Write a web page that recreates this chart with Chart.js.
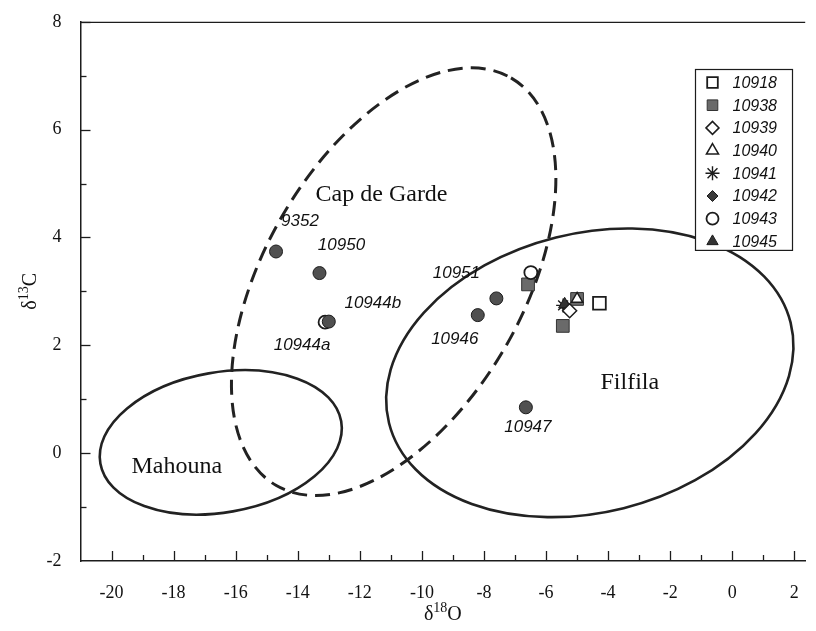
<!DOCTYPE html>
<html>
<head>
<meta charset="utf-8">
<script src="https://cdn.jsdelivr.net/npm/chart.js@4.4.1/dist/chart.umd.min.js"></script>
<style>
  html, body { margin: 0; padding: 0; background: #ffffff; }
  #wrap { width: 816px; height: 631px; }
</style>
</head>
<body>
<div id="wrap"><canvas id="c" width="816" height="631"></canvas></div>
<script>
// Axis tick labels
const xTickValues = [-20, -18, -16, -14, -12, -10, -8, -6, -4, -2, 0, 2];
const yTickValues = [-2, 0, 2, 4, 6, 8];

// Labelled samples (filled grey circles): δ18O and δ13C
const sampleNames = ['9352', '10950', '10944b', '10951', '10946', '10947'];
const sampleO = [-14.7, -13.3, -13.0, -7.6, -8.2, -6.65];
const sampleC = [3.74, 3.34, 2.44, 2.87, 2.56, 0.85];
// 10944a sits just under 10944b as an open circle
const sample10944aO = [-13.12];
const sample10944aC = [2.43];

// Legend series
const o10918 = [-4.28], c10918 = [2.78];
const o10938 = [-6.58, -5.46, -5.0], c10938 = [3.13, 2.36, 2.86];
const o10939 = [-5.24], c10939 = [2.64];
const o10940 = [-5.0], c10940 = [2.86];
const o10941 = [-5.45], c10941 = [2.74];
const o10942 = [-5.32], c10942 = [2.70];
const o10943 = [-6.49], c10943 = [3.35];
const o10945 = [-5.4], c10945 = [2.76];

// Locality fields: ellipse centre plus two conjugate semi-diameters, in axis units
const regions = [
  { name: 'Cap de Garde', cx: -10.91, cy: 3.18, u: [3.78, 3.78], v: [3.61, -1.20], dashed: true,  lx: -11.3, ly: 4.80 },
  { name: 'Filfila',      cx: -4.59,  cy: 1.49, u: [6.47, 0.93], v: [1.09, -2.51], dashed: false, lx: -3.30, ly: 1.30 },
  { name: 'Mahouna',      cx: -16.48, cy: 0.20, u: [3.88, 0.39], v: [0.39, -1.28], dashed: false, lx: -17.9, ly: -0.26 }
];

// Text placement of sample names around their points (px)
const sampleLabelShift = {
  '9352': [24, -30], '10950': [22, -28], '10944b': [44, -18], '10944a': [-23, 23],
  '10951': [-40, -25], '10946': [-23, 24], '10947': [2, 20]
};

const pts = (o, c) => o.map((x, i) => ({ x: x, y: c[i] }));
const INK = '#1c1c1c';

const datasets = [
  { label: 'samples', names: sampleNames, data: pts(sampleO, sampleC), pointStyle: 'circle', pointRadius: 6.5,
    backgroundColor: '#505050', borderColor: INK, borderWidth: 1, order: 1 },
  { label: '10944a', names: ['10944a'], data: pts(sample10944aO, sample10944aC), pointStyle: 'circle', pointRadius: 6.5,
    backgroundColor: '#ffffff', borderColor: INK, borderWidth: 1.8, order: 2 },
  { label: '10918', legend: true, data: pts(o10918, c10918), pointStyle: 'rect', pointRadius: 9,
    backgroundColor: '#ffffff', borderColor: INK, borderWidth: 1.8, order: 6, lr: 7.5 },
  { label: '10938', legend: true, data: pts(o10938, c10938), pointStyle: 'rect', pointRadius: 9,
    backgroundColor: '#6a6a6a', borderColor: '#333333', borderWidth: 1, order: 6, lr: 7.5 },
  { label: '10939', legend: true, data: pts(o10939, c10939), pointStyle: 'rectRot', pointRadius: 7,
    backgroundColor: '#ffffff', borderColor: INK, borderWidth: 1.5, order: 4, lr: 6.5 },
  { label: '10940', legend: true, data: pts(o10940, c10940), pointStyle: 'triangle', pointRadius: 6.5,
    backgroundColor: '#ffffff', borderColor: INK, borderWidth: 1.5, order: 3, lr: 7 },
  { label: '10941', legend: true, data: pts(o10941, c10941), pointStyle: 'star', pointRadius: 7,
    backgroundColor: INK, borderColor: INK, borderWidth: 1.4, order: 7, lr: 7 },
  { label: '10942', legend: true, data: pts(o10942, c10942), pointStyle: 'rectRot', pointRadius: 6,
    backgroundColor: '#3a3a3a', borderColor: INK, borderWidth: 1, order: 8, lr: 5.5 },
  { label: '10943', legend: true, data: pts(o10943, c10943), pointStyle: 'circle', pointRadius: 6.5,
    backgroundColor: '#ffffff', borderColor: INK, borderWidth: 1.8, order: 3, lr: 6 },
  { label: '10945', legend: true, data: pts(o10945, c10945), pointStyle: 'triangle', pointRadius: 7,
    backgroundColor: '#333333', borderColor: INK, borderWidth: 1, order: 5, lr: 6.5 }
];

function drawSupText(ctx, parts, x, y, size) {
  // parts: [[text, isSup], ...], centred on x
  const big = size + 'px "Liberation Serif", "Times New Roman", serif';
  const small = Math.round(size * 0.68) + 'px "Liberation Serif", "Times New Roman", serif';
  let w = 0;
  parts.forEach(p => { ctx.font = p[1] ? small : big; w += ctx.measureText(p[0]).width; });
  let cx = x - w / 2;
  ctx.textAlign = 'left';
  ctx.textBaseline = 'alphabetic';
  parts.forEach(p => {
    ctx.font = p[1] ? small : big;
    ctx.fillText(p[0], cx, p[1] ? y - size * 0.42 : y);
    cx += ctx.measureText(p[0]).width;
  });
}

const figurePlugin = {
  id: 'figure',
  beforeDatasetsDraw(chart) {
    const ctx = chart.ctx, xs = chart.scales.x, ys = chart.scales.y, a = chart.chartArea;
    ctx.save();
    ctx.strokeStyle = INK;
    ctx.lineCap = 'butt';
    // top frame line
    ctx.lineWidth = 1.2;
    ctx.beginPath(); ctx.moveTo(a.left, a.top + 0.5); ctx.lineTo(a.right, a.top + 0.5); ctx.stroke();
    // inward tick marks
    ctx.lineWidth = 1.3;
    for (let v = Math.ceil(xs.min); v <= xs.max; v++) {
      if (v === xs.min) continue;
      const px = Math.round(xs.getPixelForValue(v)) + 0.5;
      const len = xTickValues.includes(v) ? 10 : 6;
      ctx.beginPath(); ctx.moveTo(px, a.bottom); ctx.lineTo(px, a.bottom - len); ctx.stroke();
    }
    for (let v = Math.ceil(ys.min); v <= ys.max; v++) {
      if (v === ys.min) continue;
      const py = Math.round(ys.getPixelForValue(v)) + 0.5;
      const len = yTickValues.includes(v) ? 10 : 6;
      ctx.beginPath(); ctx.moveTo(a.left, py); ctx.lineTo(a.left + len, py); ctx.stroke();
    }
    // locality ellipses
    regions.forEach(r => {
      const cx = xs.getPixelForValue(r.cx), cy = ys.getPixelForValue(r.cy);
      const ux = xs.getPixelForValue(r.cx + r.u[0]) - cx, uy = ys.getPixelForValue(r.cy + r.u[1]) - cy;
      const vx = xs.getPixelForValue(r.cx + r.v[0]) - cx, vy = ys.getPixelForValue(r.cy + r.v[1]) - cy;
      ctx.save();
      ctx.beginPath();
      ctx.transform(ux, uy, vx, vy, cx, cy);
      ctx.arc(0, 0, 1, 0, Math.PI * 2);
      ctx.restore();
      ctx.strokeStyle = '#222222';
      if (r.dashed) { ctx.lineWidth = 3; ctx.setLineDash([15, 8]); }
      else { ctx.lineWidth = 2.6; ctx.setLineDash([]); }
      ctx.stroke();
      ctx.setLineDash([]);
      // locality name
      ctx.fillStyle = '#111111';
      ctx.font = '24px "Liberation Serif", "Times New Roman", serif';
      ctx.textAlign = 'center';
      ctx.textBaseline = 'middle';
      ctx.fillText(r.name, xs.getPixelForValue(r.lx), ys.getPixelForValue(r.ly));
    });
    ctx.restore();
  },
  afterDatasetsDraw(chart) {
    const ctx = chart.ctx, a = chart.chartArea;
    ctx.save();
    // sample names
    ctx.fillStyle = '#111111';
    ctx.font = 'italic 17px "Liberation Sans", Arial, sans-serif';
    ctx.textAlign = 'center';
    ctx.textBaseline = 'middle';
    chart.data.datasets.forEach((ds, di) => {
      if (!ds.names) return;
      const meta = chart.getDatasetMeta(di);
      ds.names.forEach((n, i) => {
        const el = meta.data[i], s = sampleLabelShift[n];
        ctx.fillText(n, el.x + s[0], el.y + s[1]);
      });
    });
    // legend box (opaque, sits over the Filfila outline)
    const bx = 695.5, by = 69.5, bw = 97, rowH = 22.7;
    const items = chart.data.datasets.filter(d => d.legend);
    const bh = 13 + rowH * (items.length - 1) + 9;
    ctx.fillStyle = '#ffffff';
    ctx.fillRect(bx, by, bw, bh);
    ctx.strokeStyle = INK;
    ctx.lineWidth = 1.2;
    ctx.strokeRect(bx, by, bw, bh);
    ctx.font = 'italic 16px "Liberation Sans", Arial, sans-serif';
    ctx.textAlign = 'left';
    items.forEach((d, i) => {
      const y = by + 13 + i * rowH;
      ctx.fillStyle = d.backgroundColor;
      ctx.strokeStyle = d.borderColor;
      ctx.lineWidth = d.borderWidth;
      Chart.helpers.drawPoint(ctx, { pointStyle: d.pointStyle, radius: d.lr, rotation: 0, borderWidth: d.borderWidth }, bx + 17, y);
      ctx.fillStyle = '#111111';
      ctx.fillText(d.label, bx + 37, y + 1);
    });
    // axis titles
    ctx.fillStyle = '#111111';
    drawSupText(ctx, [['δ', false], ['18', true], ['O', false]], (a.left + a.right) / 2, 620, 20);
    ctx.translate(36, (a.top + a.bottom) / 2);
    ctx.rotate(-Math.PI / 2);
    drawSupText(ctx, [['δ', false], ['13', true], ['C', false]], 0, 0, 20);
    ctx.restore();
  }
};

new Chart(document.getElementById('c'), {
  type: 'scatter',
  data: { datasets: datasets },
  options: {
    responsive: false,
    animation: false,
    devicePixelRatio: 1,
    events: [],
    layout: { padding: { top: 20, right: 7, left: 0, bottom: 0 } },
    plugins: { legend: { display: false }, tooltip: { enabled: false } },
    scales: {
      x: {
        type: 'linear', min: -21, max: 2.35,
        afterBuildTicks: s => { s.ticks = xTickValues.map(v => ({ value: v })); },
        afterFit: s => { s.height = 70; },
        grid: { display: false },
        border: { display: true, color: INK, width: 1.5 },
        ticks: { color: '#111111', padding: 13, maxRotation: 0, autoSkip: false,
                 font: { family: '"Liberation Serif", "Times New Roman", serif', size: 18 } }
      },
      y: {
        type: 'linear', min: -2, max: 8,
        afterBuildTicks: s => { s.ticks = yTickValues.map(v => ({ value: v })); },
        afterFit: s => { s.width = 80.5; },
        grid: { display: false },
        border: { display: true, color: INK, width: 1.5 },
        ticks: { color: '#111111', padding: 11, autoSkip: false,
                 font: { family: '"Liberation Serif", "Times New Roman", serif', size: 18 } }
      }
    }
  },
  plugins: [figurePlugin]
});
</script>
</body>
</html>
